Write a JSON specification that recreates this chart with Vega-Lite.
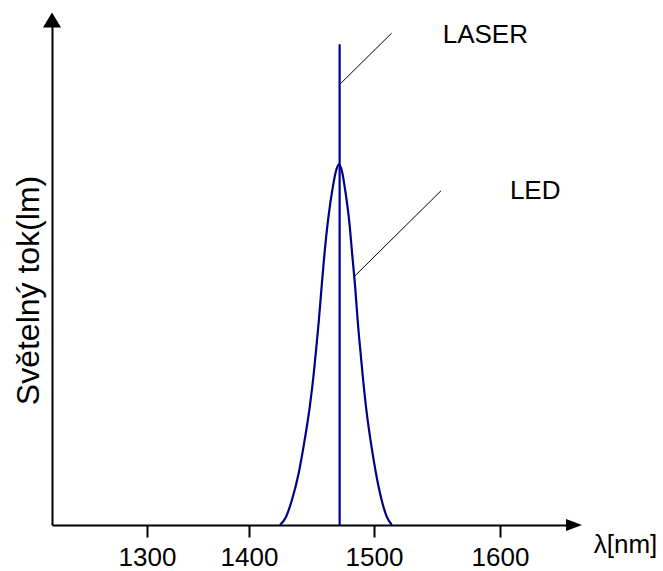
{
  "$schema": "https://vega.github.io/schema/vega-lite/v6.json",
  "width": 522,
  "height": 505,
  "autosize": {"type": "none"},
  "padding": {"left": 52, "top": 20, "right": 89, "bottom": 46},
  "background": "white",
  "config": {
    "view": {"stroke": null},
    "font": "Liberation Sans"
  },
  "encoding": {
    "x": {
      "field": "nm",
      "type": "quantitative",
      "scale": {
        "domain": [1207, 1300, 1400, 1500, 1600, 1659],
        "range": [0, 95, 197, 322, 448, 522],
        "zero": false,
        "nice": false
      },
      "axis": {
        "values": [1300, 1400, 1500, 1600],
        "format": "d",
        "grid": false,
        "domain": true,
        "domainColor": "black",
        "domainWidth": 2,
        "ticks": true,
        "tickColor": "black",
        "tickWidth": 2,
        "tickSize": 12,
        "labelPadding": 7,
        "labelFont": "Liberation Sans",
        "labelFontSize": 26,
        "labelColor": "black",
        "labelOverlap": false,
        "labelFlush": false,
        "title": "λ[nm]",
        "titleFont": "Liberation Sans",
        "titleFontSize": 26,
        "titleFontWeight": "normal",
        "titleColor": "black",
        "titleX": 573,
        "titleY": 27,
        "titleAlign": "center",
        "titleBaseline": "alphabetic",
        "titleAnchor": null
      }
    },
    "y": {
      "field": "v",
      "type": "quantitative",
      "scale": {"domain": [0, 1], "zero": false, "nice": false},
      "axis": {
        "grid": false,
        "domain": true,
        "domainColor": "black",
        "domainWidth": 2,
        "ticks": false,
        "labels": false,
        "title": "Světelný tok(lm)",
        "titleFont": "Liberation Sans",
        "titleFontSize": 32,
        "titleFontWeight": "normal",
        "titleColor": "black",
        "titleX": -24,
        "titleY": 270,
        "titleAlign": "center",
        "titleBaseline": "middle",
        "titleAngle": -90
      }
    }
  },
  "layer": [
    {
      "data": {
        "values": [
          {"nm": 1424.8, "v": 0},
          {"nm": 1429.6, "v": 0.016},
          {"nm": 1434.4, "v": 0.05},
          {"nm": 1439.7, "v": 0.102},
          {"nm": 1444.5, "v": 0.168},
          {"nm": 1448.6, "v": 0.234},
          {"nm": 1451.8, "v": 0.3},
          {"nm": 1454.4, "v": 0.366},
          {"nm": 1455.8, "v": 0.403},
          {"nm": 1458.0, "v": 0.469},
          {"nm": 1460.3, "v": 0.535},
          {"nm": 1463.1, "v": 0.601},
          {"nm": 1466.9, "v": 0.667},
          {"nm": 1469.5, "v": 0.700},
          {"nm": 1472.0, "v": 0.714},
          {"nm": 1474.4, "v": 0.700},
          {"nm": 1476.7, "v": 0.667},
          {"nm": 1480.2, "v": 0.601},
          {"nm": 1482.6, "v": 0.535},
          {"nm": 1485.0, "v": 0.469},
          {"nm": 1487.0, "v": 0.403},
          {"nm": 1488.3, "v": 0.366},
          {"nm": 1490.8, "v": 0.3},
          {"nm": 1493.6, "v": 0.234},
          {"nm": 1497.2, "v": 0.168},
          {"nm": 1501.6, "v": 0.102},
          {"nm": 1506.0, "v": 0.05},
          {"nm": 1510.2, "v": 0.016},
          {"nm": 1514.1, "v": 0}
        ]
      },
      "mark": {"type": "line", "interpolate": "monotone", "color": "#000088", "strokeWidth": 2.2}
    },
    {
      "data": {"values": [{"nm": 1472.5, "v": 0, "v2": 0.952}]},
      "mark": {"type": "rule", "color": "#000088", "strokeWidth": 2.2},
      "encoding": {"y2": {"field": "v2"}}
    },
    {
      "data": {
        "values": [
          {"nm": 1472.0, "v": 0.871, "nm2": 1514.0, "v2": 0.974},
          {"nm": 1484.2, "v": 0.492, "nm2": 1553.2, "v2": 0.662}
        ]
      },
      "mark": {"type": "rule", "color": "black", "strokeWidth": 1},
      "encoding": {"x2": {"field": "nm2"}, "y2": {"field": "v2"}}
    },
    {
      "data": {
        "values": [
          {"nm": 1554.5, "v": 0.955, "label": "LASER"},
          {"nm": 1607.9, "v": 0.645, "label": "LED"}
        ]
      },
      "mark": {"type": "text", "align": "left", "baseline": "alphabetic", "font": "Liberation Sans", "fontSize": 26, "color": "black"},
      "encoding": {"text": {"field": "label"}}
    },
    {
      "data": {"values": [{"nm": 1659, "v": 0}]},
      "mark": {"type": "point", "shape": "M-1,-0.75L1,0L-1,0.75Z", "size": 256, "filled": true, "color": "black", "opacity": 1, "strokeWidth": 0}
    },
    {
      "data": {"values": [{"nm": 1207, "v": 1}]},
      "mark": {"type": "point", "shape": "M0,-0.83L1,0.83L-1,0.83Z", "size": 324, "filled": true, "color": "black", "opacity": 1, "strokeWidth": 0}
    }
  ]
}
